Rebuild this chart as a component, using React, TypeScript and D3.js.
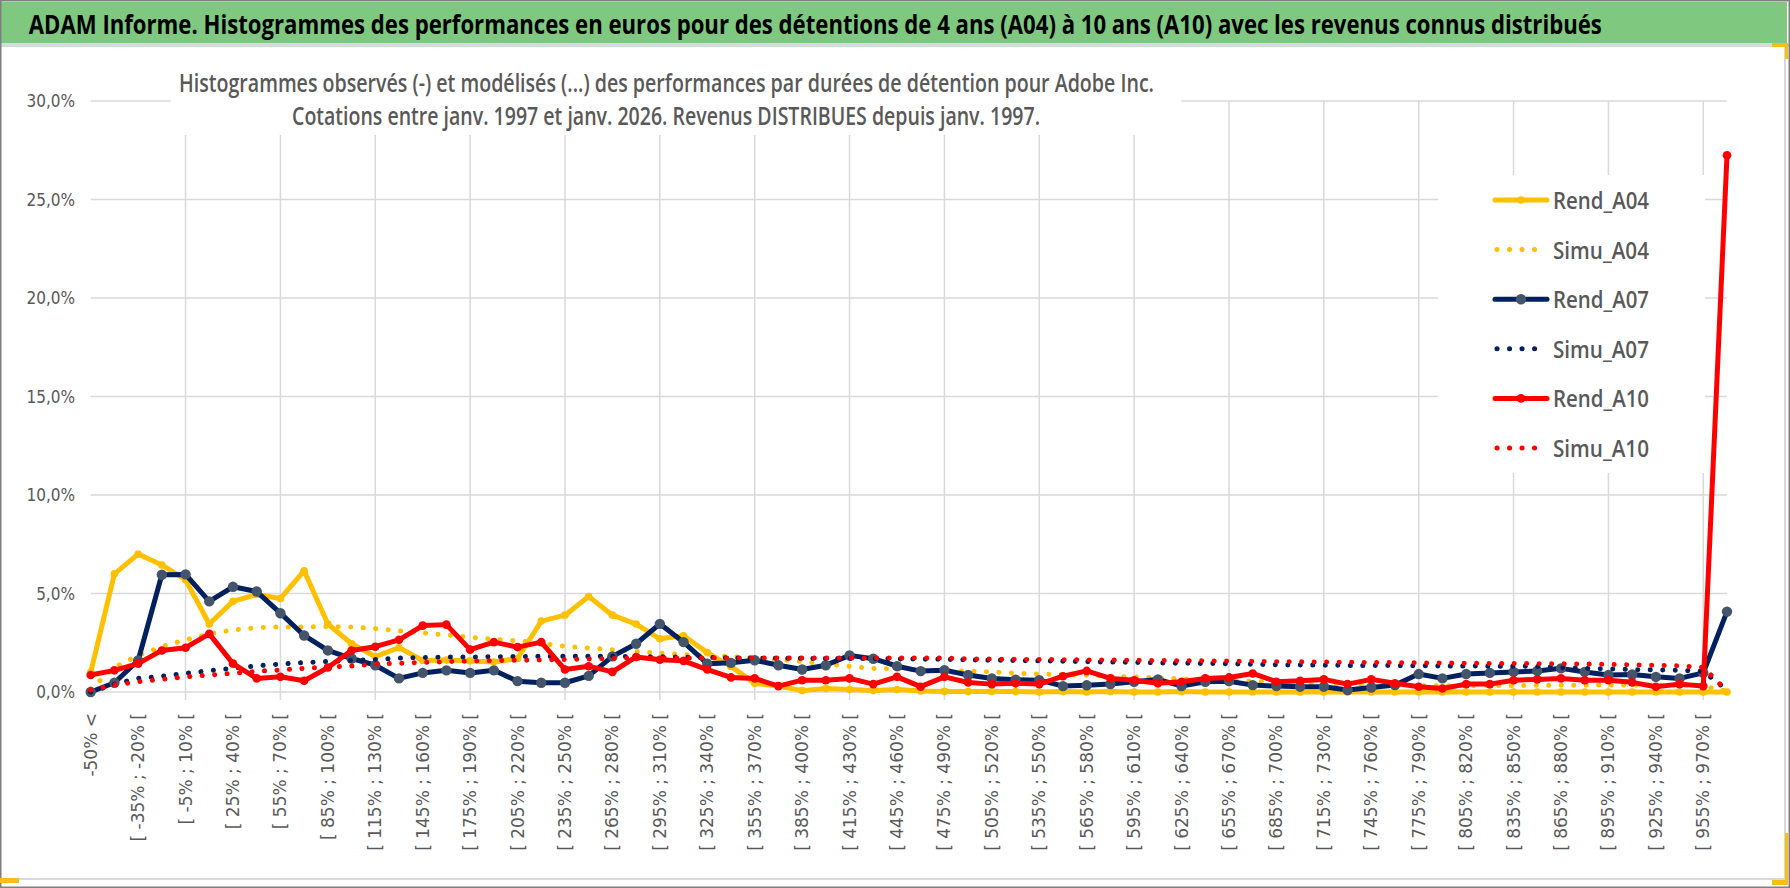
import * as d3 from "d3";

// classes de performance (bins de 15 %)
const categories = [
  "-50% <", "[ -50% ; -35% [", "[ -35% ; -20% [", "[ -20% ; -5% [", "[ -5% ; 10% [",
  "[ 10% ; 25% [", "[ 25% ; 40% [", "[ 40% ; 55% [", "[ 55% ; 70% [", "[ 70% ; 85% [",
  "[ 85% ; 100% [", "[ 100% ; 115% [", "[ 115% ; 130% [", "[ 130% ; 145% [", "[ 145% ; 160% [",
  "[ 160% ; 175% [", "[ 175% ; 190% [", "[ 190% ; 205% [", "[ 205% ; 220% [", "[ 220% ; 235% [",
  "[ 235% ; 250% [", "[ 250% ; 265% [", "[ 265% ; 280% [", "[ 280% ; 295% [", "[ 295% ; 310% [",
  "[ 310% ; 325% [", "[ 325% ; 340% [", "[ 340% ; 355% [", "[ 355% ; 370% [", "[ 370% ; 385% [",
  "[ 385% ; 400% [", "[ 400% ; 415% [", "[ 415% ; 430% [", "[ 430% ; 445% [", "[ 445% ; 460% [",
  "[ 460% ; 475% [", "[ 475% ; 490% [", "[ 490% ; 505% [", "[ 505% ; 520% [", "[ 520% ; 535% [",
  "[ 535% ; 550% [", "[ 550% ; 565% [", "[ 565% ; 580% [", "[ 580% ; 595% [", "[ 595% ; 610% [",
  "[ 610% ; 625% [", "[ 625% ; 640% [", "[ 640% ; 655% [", "[ 655% ; 670% [", "[ 670% ; 685% [",
  "[ 685% ; 700% [", "[ 700% ; 715% [", "[ 715% ; 730% [", "[ 730% ; 745% [", "[ 745% ; 760% [",
  "[ 760% ; 775% [", "[ 775% ; 790% [", "[ 790% ; 805% [", "[ 805% ; 820% [", "[ 820% ; 835% [",
  "[ 835% ; 850% [", "[ 850% ; 865% [", "[ 865% ; 880% [", "[ 880% ; 895% [", "[ 895% ; 910% [",
  "[ 910% ; 925% [", "[ 925% ; 940% [", "[ 940% ; 955% [", "[ 955% ; 970% [", "> 970%",
];

const rendA04 = [
  1.0, 6.0, 7.0, 6.45, 5.7, 3.45, 4.6, 4.95, 4.75, 6.15,
  3.45, 2.45, 1.8, 2.25, 1.6, 1.62, 1.58, 1.52, 1.7, 3.6,
  3.9, 4.85, 3.9, 3.45, 2.7, 2.85, 2.0, 1.3, 0.44, 0.3,
  0.07, 0.18, 0.13, 0.07, 0.13, 0.05, 0.03, 0.02, 0.02, 0.02,
  0.0, 0.02, 0.0, 0.02, 0.0, 0.0, 0.02, 0.0, 0.0, 0.0,
  0.0, 0.0, 0.0, 0.0, 0.0, 0.0, 0.0, 0.0, 0.0, 0.0,
  0.0, 0.0, 0.0, 0.0, 0.0, 0.0, 0.0, 0.0, 0.0, 0.0,
];

const simuA04 = [
  0.15, 1.25, 1.85, 2.3, 2.65, 2.95, 3.15, 3.27, 3.3, 3.3,
  3.32, 3.3, 3.22, 3.1, 3.0, 2.9, 2.78, 2.68, 2.6, 2.47,
  2.32, 2.23, 2.15, 2.06, 1.97, 1.9, 1.85, 1.8, 1.72, 1.65,
  1.55, 1.42, 1.3, 1.2, 1.17, 1.13, 1.1, 1.06, 1.02, 0.96,
  0.91, 0.88, 0.85, 0.8, 0.76, 0.72, 0.67, 0.63, 0.58, 0.54,
  0.5, 0.46, 0.42, 0.38, 0.35, 0.33, 0.32, 0.32, 0.32, 0.33,
  0.33, 0.34, 0.34, 0.35, 0.35, 0.35, 0.35, 0.34, 0.3, 0.05,
];

const rendA07 = [
  0.0, 0.47, 1.6, 5.95, 5.97, 4.6, 5.34, 5.1, 4.0, 2.87,
  2.11, 1.7, 1.36, 0.69, 0.97, 1.1, 0.97, 1.1, 0.55, 0.47,
  0.47, 0.82, 1.81, 2.45, 3.46, 2.53, 1.44, 1.48, 1.61, 1.36,
  1.14, 1.36, 1.86, 1.69, 1.31, 1.06, 1.11, 0.86, 0.69, 0.62,
  0.6, 0.3, 0.34, 0.4, 0.52, 0.64, 0.3, 0.52, 0.55, 0.35,
  0.3, 0.27, 0.27, 0.1, 0.23, 0.35, 0.91, 0.69, 0.91, 0.97,
  1.02, 1.07, 1.2, 1.02, 0.86, 0.89, 0.77, 0.69, 0.97, 4.08,
];

const simuA07 = [
  0.0, 0.4, 0.69, 0.8, 0.95, 1.08, 1.2, 1.33, 1.42, 1.49,
  1.55, 1.6, 1.65, 1.72, 1.75, 1.77, 1.78, 1.79, 1.8, 1.81,
  1.81, 1.81, 1.81, 1.8, 1.79, 1.77, 1.75, 1.73, 1.72, 1.71,
  1.71, 1.7, 1.7, 1.69, 1.68, 1.67, 1.66, 1.63, 1.61, 1.6,
  1.58, 1.56, 1.54, 1.52, 1.5, 1.48, 1.46, 1.45, 1.43, 1.41,
  1.38, 1.37, 1.36, 1.35, 1.35, 1.34, 1.33, 1.32, 1.32, 1.31,
  1.31, 1.3, 1.24, 1.2, 1.17, 1.14, 1.12, 1.1, 1.05, 0.1,
];

const rendA10 = [
  0.86, 1.1, 1.44, 2.11, 2.25, 2.95, 1.44, 0.69, 0.77, 0.57,
  1.24, 2.11, 2.3, 2.65, 3.37, 3.42, 2.15, 2.53, 2.28, 2.53,
  1.14, 1.31, 1.02, 1.78, 1.64, 1.58, 1.14, 0.74, 0.69, 0.3,
  0.6, 0.6, 0.69, 0.4, 0.77, 0.27, 0.77, 0.48, 0.4, 0.44,
  0.4, 0.8, 1.07, 0.69, 0.6, 0.44, 0.52, 0.69, 0.74, 0.94,
  0.52, 0.57, 0.64, 0.4, 0.64, 0.44, 0.27, 0.18, 0.4, 0.4,
  0.6, 0.64, 0.69, 0.6, 0.6, 0.49, 0.27, 0.4, 0.3, 27.25,
];

const simuA10 = [
  0.1, 0.36, 0.52, 0.64, 0.77, 0.86, 0.95, 1.05, 1.12, 1.2,
  1.26, 1.32, 1.42, 1.46, 1.5, 1.54, 1.57, 1.59, 1.61, 1.63,
  1.65, 1.68, 1.7, 1.72, 1.73, 1.73, 1.73, 1.73, 1.73, 1.73,
  1.73, 1.73, 1.73, 1.73, 1.72, 1.72, 1.72, 1.68, 1.67, 1.66,
  1.65, 1.64, 1.63, 1.62, 1.61, 1.6, 1.59, 1.58, 1.57, 1.56,
  1.54, 1.53, 1.52, 1.51, 1.5, 1.49, 1.48, 1.47, 1.46, 1.45,
  1.45, 1.44, 1.43, 1.42, 1.4, 1.38, 1.36, 1.33, 1.25, 0.05,
];

const yTicks = [0, 5, 10, 15, 20, 25, 30];

const title =
  "ADAM Informe. Histogrammes des performances en euros pour des détentions de 4 ans (A04) à 10 ans (A10) avec les revenus connus distribués";
const subtitle1 =
  "Histogrammes observés (-) et modélisés (...) des performances par durées de détention pour Adobe Inc.";
const subtitle2 =
  "Cotations entre janv. 1997 et janv. 2026. Revenus DISTRIBUES depuis janv. 1997.";

type Serie = {
  name: string;
  values: number[];
  color: string;
  dotted: boolean;
  marker?: string;
  r?: number;
};

const series: Serie[] = [
  { name: "Rend_A04", values: rendA04, color: "#FFC000", dotted: false, marker: "#FFC000", r: 3.8 },
  { name: "Simu_A04", values: simuA04, color: "#FFC000", dotted: true },
  { name: "Rend_A07", values: rendA07, color: "#002060", dotted: false, marker: "#44546A", r: 5.2 },
  { name: "Simu_A07", values: simuA07, color: "#002060", dotted: true },
  { name: "Rend_A10", values: rendA10, color: "#FF0000", dotted: false, marker: "#FF0000", r: 4.3 },
  { name: "Simu_A10", values: simuA10, color: "#FF0000", dotted: true },
];

const W = 1790;
const H = 888;
const grey = "#595959";
const gridColor = "#D9D9D9";
const sans = "'Open Sans', 'Noto Sans', sans-serif";

// texte "écrasé" horizontalement comme dans l'export d'origine
function Squeezed(props: {
  x: number; y: number; text: string; width: number; squeeze: number;
  size: number; weight: number; fill: string;
}) {
  const { x, y, text, width, squeeze, size, weight, fill } = props;
  return (
    <text
      transform={`translate(${x},${y}) scale(${squeeze},1)`}
      fontFamily={sans}
      fontWeight={weight}
      fontSize={size}
      fill={fill}
      textLength={width / squeeze}
      lengthAdjust="spacingAndGlyphs"
    >
      {text}
    </text>
  );
}

export default function App() {
  const x = d3.scalePoint<string>().domain(categories).range([90.7, 1727]);
  const y = d3.scaleLinear().domain([0, 30]).range([692, 101]);

  const line = d3
    .line<number>()
    .x((_, i) => x(categories[i]) as number)
    .y((d) => y(d));

  const legendY = d3.scalePoint<string>().domain(series.map((s) => s.name)).range([200, 448]);

  const vGrid = categories.filter((_, i) => i > 0 && i % 4 === 0);
  const labelled = categories.filter((_, i) => i % 2 === 0);

  return (
    <div style={{ position: "absolute", left: 0, top: 0 }}>
      <svg width={W} height={H} style={{ display: "block" }}>
        <rect x={0} y={0} width={W} height={H} fill="#fff" />

        {/* bandeau titre */}
        <rect x={1} y={2} width={1786} height={41} fill="#7EC87F" />
        <rect x={0} y={43} width={W} height={4} fill={gridColor} />
        <Squeezed x={28.8} y={34} text={title} width={1573} squeeze={0.8} size={26} weight={700} fill="#000" />

        {/* grilles */}
        {yTicks.map((t) => (
          <line key={"h" + t} x1={90.7} x2={1727} y1={y(t)} y2={y(t)} stroke={gridColor} strokeWidth={1.5} />
        ))}
        {vGrid.map((c) => (
          <line key={"v" + c} x1={x(c)} x2={x(c)} y1={y(30)} y2={700} stroke={gridColor} strokeWidth={1.5} />
        ))}

        {/* cache du sous-titre */}
        <rect x={171} y={58} width={1010} height={77} fill="#fff" />
        <Squeezed x={179} y={92} text={subtitle1} width={975} squeeze={0.72} size={26} weight={600} fill={grey} />
        <Squeezed x={292} y={125} text={subtitle2} width={748} squeeze={0.72} size={26} weight={600} fill={grey} />

        {/* axe Y */}
        {yTicks.map((t) => (
          <text
            key={"yl" + t}
            x={75}
            y={y(t)}
            textAnchor="end"
            dominantBaseline="central"
            fontFamily="'Liberation Sans Narrow', 'DejaVu Sans Condensed', sans-serif"
            fontSize={17}
            fill={grey}
          >
            {t.toFixed(1).replace(".", ",") + "%"}
          </text>
        ))}

        {/* axe X */}
        {labelled.map((c) => (
          <text
            key={"xl" + c}
            transform={`translate(${x(c)},713) rotate(-90)`}
            textAnchor="end"
            dominantBaseline="central"
            fontFamily="'DejaVu Sans', sans-serif"
            fontSize={17}
            fill={grey}
          >
            {c}
          </text>
        ))}

        {/* séries */}
        {series.map((s) => (
          <g key={s.name}>
            <path
              d={line(s.values) || ""}
              fill="none"
              stroke={s.color}
              strokeWidth={5}
              strokeLinejoin="round"
              strokeLinecap="round"
              strokeDasharray={s.dotted ? "0.1 12.4" : undefined}
            />
            {s.marker &&
              s.values.map((v, i) => (
                <circle key={i} cx={x(categories[i])} cy={y(v)} r={s.r} fill={s.marker} />
              ))}
          </g>
        ))}

        {/* légende */}
        <rect x={1438} y={175} width={267} height={298} fill="#fff" />
        {series.map((s) => {
          const ly = legendY(s.name) as number;
          return (
            <g key={"lg" + s.name}>
              {s.dotted ? (
                <line
                  x1={1497}
                  x2={s.name === "Simu_A10" ? 1545 : 1536}
                  y1={ly}
                  y2={ly}
                  stroke={s.color}
                  strokeWidth={5}
                  strokeLinecap="round"
                  strokeDasharray="0.1 12.4"
                />
              ) : (
                <>
                  <line x1={1495} x2={1547} y1={ly} y2={ly} stroke={s.color} strokeWidth={5} strokeLinecap="round" />
                  <circle cx={1521} cy={ly} r={s.r} fill={s.marker} />
                </>
              )}
              <Squeezed x={1553} y={ly + 9} text={s.name} width={96} squeeze={0.85} size={24} weight={600} fill={grey} />
            </g>
          );
        })}

        {/* cadre */}
        <line x1={1785} x2={1785} y1={47} y2={878} stroke={gridColor} strokeWidth={2} />
        <line x1={0} x2={1785} y1={879} y2={879} stroke={gridColor} strokeWidth={2} />
        <rect x={0.75} y={0.75} width={W - 1.5} height={H - 1.5} fill="none" stroke="#7F7F7F" strokeWidth={1.5} />
        <rect x={1772} y={43} width={16} height={4} fill="#F2C018" />
        <rect x={1785} y={43} width={3} height={16} fill="#F2C018" />
        <rect x={0} y={878} width={19} height={5} fill="#F2C018" />
        <rect x={1772} y={880} width={16} height={5} fill="#F2C018" />
        <rect x={1785} y={833} width={3} height={52} fill="#F2C018" />
      </svg>
    </div>
  );
}
